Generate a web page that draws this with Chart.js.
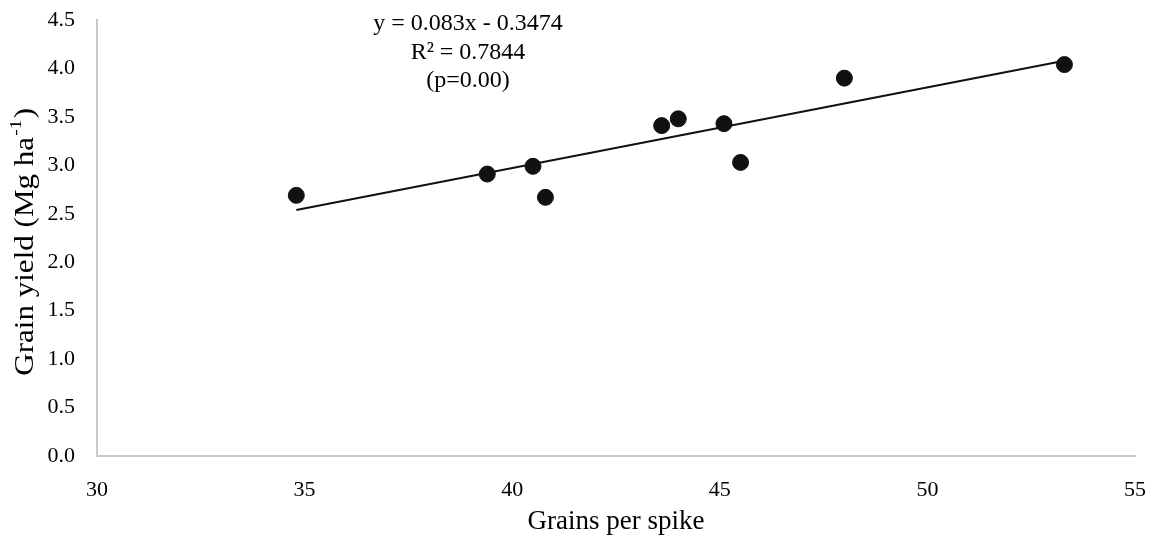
<!DOCTYPE html>
<html>
<head>
<meta charset="utf-8">
<script src="https://cdn.jsdelivr.net/npm/chart.js@4/dist/chart.umd.min.js"></script>
<style>
  html, body { margin: 0; padding: 0; background: #fff; }
  #wrap { width: 1156px; height: 538px; }
</style>
</head>
<body>
<div id="wrap"><canvas id="yieldChart"></canvas></div>
<script>
// grains per spike vs grain yield
var grains = [34.8, 39.4, 40.5, 40.8, 43.6, 44.0, 45.1, 45.5, 48.0, 53.3];
var yieldMg = [2.69, 2.91, 2.99, 2.67, 3.41, 3.48, 3.43, 3.03, 3.90, 4.04];

// trend line ends
var trendX = [34.8, 53.3];
var trendY = [2.54, 4.08];

var xTicks = [30, 35, 40, 45, 50, 55];
var yTicks = [0, 0.5, 1, 1.5, 2, 2.5, 3, 3.5, 4, 4.5];

var eqLines = ["y = 0.083x - 0.3474", "R\u00b2 = 0.7844", "(p=0.00)"];

var serif = "'Liberation Serif', 'Times New Roman', serif";

function toPoints(xs, ys) {
    return xs.map(function (x, i) { return { x: x, y: ys[i] }; });
}

const textPlugin = {
    id: "texts",
    afterDraw(chart) {
        const ctx = chart.ctx;
        const area = chart.chartArea;
        ctx.save();
        ctx.fillStyle = "#000";

        // regression text
        ctx.font = "24px " + serif;
        ctx.textAlign = "center";
        ctx.textBaseline = "middle";
        eqLines.forEach(function (t, i) {
            ctx.fillText(t, 468, 24 + i * 28.5);
        });

        // x title
        ctx.font = "27px " + serif;
        ctx.fillText("Grains per spike", (area.left + area.right) / 2, 522);

        // y title with superscript, a bit stretched along its length
        ctx.translate(26, 243);
        ctx.rotate(-Math.PI / 2);
        ctx.scale(1.15, 1);
        var a = "Grain yield (Mg ha", sup = "-1", b = ")";
        ctx.font = "27px " + serif;
        var wa = ctx.measureText(a).width, wb = ctx.measureText(b).width;
        ctx.font = "17px " + serif;
        var ws = ctx.measureText(sup).width;
        var x0 = -(wa + ws + wb) / 2;
        ctx.textAlign = "left";
        ctx.font = "27px " + serif;
        ctx.fillText(a, x0, 0);
        ctx.font = "17px " + serif;
        ctx.fillText(sup, x0 + wa + 1, -9);
        ctx.font = "27px " + serif;
        ctx.fillText(b, x0 + wa + ws + 2, 0);
        ctx.restore();
    }
};

new Chart(document.getElementById("yieldChart"), {
    type: "scatter",
    data: {
        datasets: [{
            label: "Grain yield",
            data: toPoints(grains, yieldMg),
            backgroundColor: "#111",
            borderColor: "#111",
            pointRadius: 8,
            pointHoverRadius: 8
        },
        {
            label: "Linear",
            type: "line",
            data: toPoints(trendX, trendY),
            borderColor: "#111",
            borderWidth: 2,
            pointRadius: 0,
            fill: false
        }]
    },
    options: {
        responsive: true,
        maintainAspectRatio: false,
        animation: false,
        layout: { padding: { top: 20, right: 21, left: 0, bottom: 0 } },
        plugins: {
            legend: { display: false },
            tooltip: { enabled: false }
        },
        scales: {
            x: {
                type: "linear",
                min: 30,
                max: 55,
                afterBuildTicks: function (s) { s.ticks = xTicks.map(function (v) { return { value: v }; }); },
                afterFit: function (s) {
                    s.height = 82;
                    s.paddingLeft = 0;
                    s.paddingRight = 0;
                },
                grid: { display: false, drawTicks: false },
                border: { color: "#c8c8c8", width: 2 },
                ticks: { color: "#000", padding: 21, font: { family: serif, size: 22 } }
            },
            y: {
                min: 0,
                max: 4.5,
                afterBuildTicks: function (s) { s.ticks = yTicks.map(function (v) { return { value: v }; }); },
                afterFit: function (s) {
                    s.width = 97;
                    s.paddingTop = 0;
                    s.paddingBottom = 0;
                },
                grid: { display: false, drawTicks: false },
                border: { color: "#c8c8c8", width: 2 },
                ticks: {
                    color: "#000",
                    padding: 22,
                    font: { family: serif, size: 22 },
                    callback: function (v) { return v.toFixed(1); }
                }
            }
        }
    },
    plugins: [textPlugin]
});
</script>
</body>
</html>
